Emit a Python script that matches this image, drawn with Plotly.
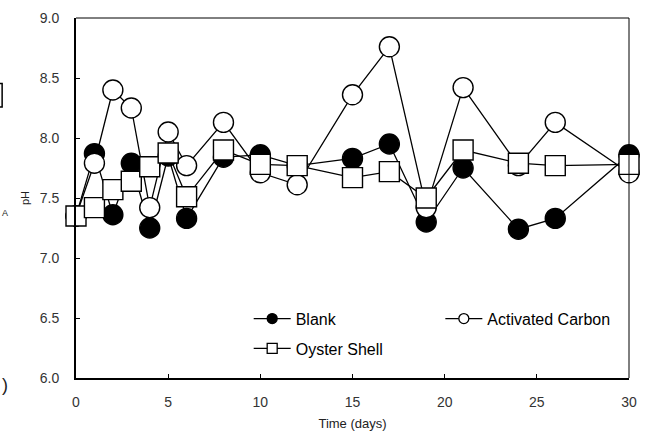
import plotly.graph_objects as go

days = [0, 1, 2, 3, 4, 5, 6, 8, 10, 12, 15, 17, 19, 21, 24, 26, 30]
blank = [7.35, 7.87, 7.36, 7.79, 7.25, 7.85, 7.33, 7.84, 7.86, 7.77, 7.83, 7.95, 7.30, 7.75, 7.24, 7.33, 7.86]
activated_carbon = [7.35, 7.79, 8.40, 8.25, 7.42, 8.05, 7.77, 8.13, 7.71, 7.61, 8.36, 8.76, 7.42, 8.42, 7.77, 8.13, 7.71]
oyster_shell = [7.35, 7.42, 7.57, 7.64, 7.76, 7.875, 7.51, 7.90, 7.78, 7.77, 7.67, 7.72, 7.50, 7.90, 7.79, 7.77, 7.78]

x_ticks = [0, 5, 10, 15, 20, 25, 30]
y_ticks = [6.0, 6.5, 7.0, 7.5, 8.0, 8.5, 9.0]

W, H = 647, 446
L, R, T, B = 76, 17, 10, 68
PW, PH = W - L - R, H - T - B

def px(xp):
    return (xp - L) / PW

def py(yp):
    return (H - B - yp) / PH

fig = go.Figure()

series = [
    ("Blank", blank, "circle", "black", "legend"),
    ("Activated Carbon", activated_carbon, "circle", "white", "legend2"),
    ("Oyster Shell", oyster_shell, "square", "white", "legend"),
]

for name, vals, sym, fill, lg in series:
    fig.add_trace(go.Scatter(
        x=days, y=vals, mode="lines+markers", name=name,
        line=dict(color="black", width=1.3),
        marker=dict(symbol=sym, size=20, color=fill, line=dict(color="black", width=1.4)),
        cliponaxis=False, showlegend=False,
    ))

# legend entries (small markers as in the reference)
for name, vals, sym, fill, lg in [series[0], series[2], series[1]]:
    fig.add_trace(go.Scatter(
        x=[None], y=[None], mode="lines+markers", name=name,
        line=dict(color="black", width=1.3),
        marker=dict(symbol=sym, size=10, color=fill, line=dict(color="black", width=1.3)),
        showlegend=True, legend=lg, legendgroup=name,
    ))

tickfont = dict(family="Liberation Sans, Arial, sans-serif", size=14, color="#333")

fig.update_layout(
    width=W, height=H, autosize=False,
    margin=dict(l=L, r=R, t=T, b=B, pad=0),
    paper_bgcolor="white", plot_bgcolor="white",
    font=dict(family="Liberation Sans, Arial, sans-serif", color="black"),
    xaxis=dict(range=[0, 30], tickvals=x_ticks, ticktext=[str(v) for v in x_ticks],
               ticks="inside", ticklen=4, tickwidth=1, tickcolor="black",
               showline=True, linecolor="black", linewidth=2, showgrid=False, zeroline=False,
               tickfont=tickfont, ticklabelstandoff=10,
               title=dict(text="Time (days)", font=dict(size=13, color="#222"), standoff=10)),
    yaxis=dict(range=[6, 9], tickvals=y_ticks, ticktext=["%.1f" % v for v in y_ticks],
               ticks="inside", ticklen=4, tickwidth=1, tickcolor="black",
               showline=True, linecolor="black", linewidth=2, showgrid=False, zeroline=False,
               tickfont=tickfont, ticklabelstandoff=12),
    legend=dict(x=px(249), y=py(300), xanchor="left", yanchor="top", itemwidth=37,
                font=dict(size=16, color="black"), tracegroupgap=6, bgcolor="rgba(0,0,0,0)"),
    legend2=dict(x=px(441), y=py(300), xanchor="left", yanchor="top", itemwidth=37,
                 font=dict(size=16, color="black"), bgcolor="rgba(0,0,0,0)"),
    showlegend=True,
)

# thin top/right frame
fig.add_shape(type="line", xref="paper", yref="paper", x0=0, x1=1, y0=1, y1=1,
              line=dict(color="black", width=1))
fig.add_shape(type="line", xref="paper", yref="paper", x0=1, x1=1, y0=0, y1=1,
              line=dict(color="black", width=1))

fig.add_annotation(text="pH", xref="paper", yref="paper", x=px(17), y=py(194),
                   showarrow=False, textangle=-90, font=dict(size=11, color="#222"))
fig.add_annotation(text=")", xref="paper", yref="paper", x=px(0), y=py(397),
                   xanchor="left", showarrow=False, font=dict(size=18, color="#222"))
fig.add_annotation(text="A", xref="paper", yref="paper", x=px(0), y=py(209),
                   xanchor="left", showarrow=False, font=dict(size=9, color="#222"))
fig.add_shape(type="rect", xref="paper", yref="paper", x0=px(-20), x1=px(2), y0=py(101), y1=py(77),
              line=dict(color="black", width=1.5))

fig.write_html("out.html", config={"displayModeBar": False},
               post_script="document.body.style.margin='0';")
